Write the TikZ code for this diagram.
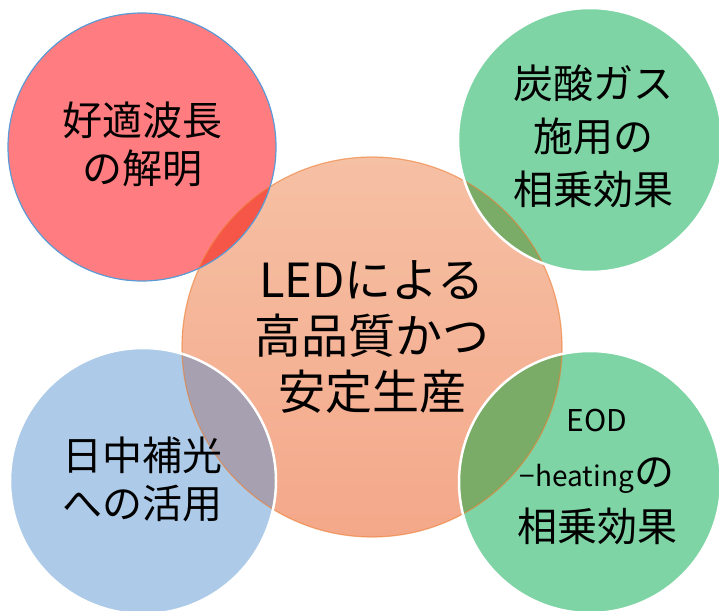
\documentclass[tikz,border=0pt]{standalone}
\usepackage{fontspec}
\setmainfont{Noto Sans CJK JP}
\definecolor{orTop}{RGB}{246,192,164}
\definecolor{orBot}{RGB}{244,168,138}
\definecolor{orLine}{RGB}{237,125,49}
\definecolor{redF}{RGB}{255,124,128}
\definecolor{redLine}{RGB}{91,155,213}
\definecolor{greenF}{RGB}{126,212,164}
\definecolor{blueF}{RGB}{173,203,232}
\definecolor{ovRed}{RGB}{246,86,72}
\definecolor{ovGreen}{RGB}{122,172,104}
\definecolor{ovBlue}{RGB}{166,160,176}
\tikzset{
  bubble/.style={circle, inner sep=0pt, draw=none},
  label38/.style={align=center, text=black, font=\fontsize{40}{48}\selectfont},
}
\begin{document}
\begin{tikzpicture}[x=1pt,y=-1pt]
\useasboundingbox (0,0) rectangle (719,610);
% circles
\node[bubble, minimum size=380pt, top color=orTop, bottom color=orBot] (center) at (372,347) {};
\node[bubble, minimum size=268pt, fill=redF] (red) at (142,147) {};
\node[bubble, minimum size=264pt, fill=greenF] (gtop) at (590,140) {};
\node[bubble, minimum size=266pt, fill=blueF] (blue) at (143,481) {};
\node[bubble, minimum size=262pt, fill=greenF] (gbot) at (590,482) {};
% overlaps
\begin{scope}
  \clip (center.center) circle (190pt);
  \fill[ovRed] (red.center) circle (134pt);
  \fill[ovGreen] (gtop.center) circle (132pt);
  \fill[ovBlue] (blue.center) circle (133pt);
  \fill[ovGreen] (gbot.center) circle (131pt);
\end{scope}
% borders
\draw[orLine, line width=1.2pt, draw opacity=0.6] (center.center) circle (190pt);
\draw[redLine, line width=1.2pt] (red.center) circle (134pt);
\draw[white, line width=2.5pt] (gtop.center) circle (132pt);
\draw[white, line width=2.5pt] (blue.center) circle (133pt);
\draw[white, line width=2.5pt] (gbot.center) circle (131pt);
% texts
\node[label38] (tred) at (142,144) {好適波長\\の解明};
\node[label38, font=\fontsize{40}{53}\selectfont] (tgtop) at (593,136) {炭酸ガス\\施用の\\相乗効果};
\node[label38] (tblue) at (142,479) {日中補光\\への活用};
\node[align=center, font=\fontsize{47}{56}\selectfont] (tcenter) at (372,337) {LEDによる\\高品質かつ\\安定生産};
\node[align=center, font=\fontsize{30}{55}\selectfont] (tgbot) at (597,477) {EOD\\{\fontsize{28}{55}\selectfont −heating}{\fontsize{40}{55}\selectfont の}\\{\fontsize{40}{55}\selectfont 相乗効果}};
\end{tikzpicture}
\end{document}
